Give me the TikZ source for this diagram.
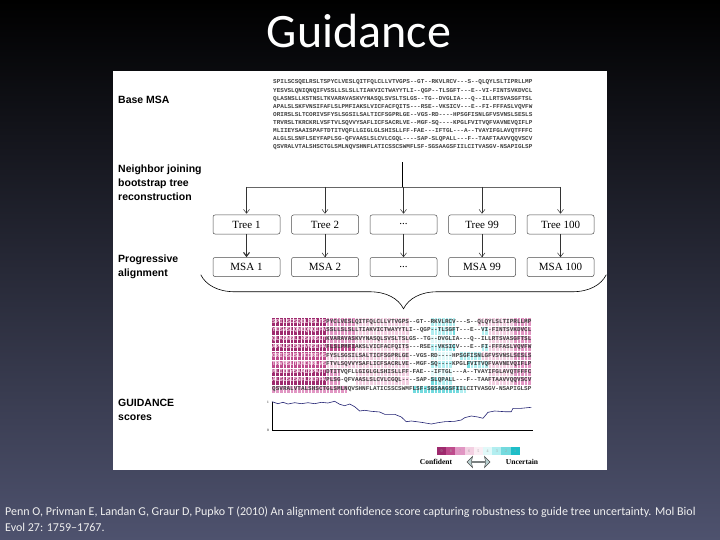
\documentclass[tikz,border=0pt]{standalone}
\usepackage{fontspec}
\setmainfont{Liberation Serif}
\setsansfont{Liberation Sans}
\setmonofont{Liberation Mono}
\newfontfamily\slidefont{Carlito}
\usepackage{tikz}
\usetikzlibrary{arrows.meta, positioning, shapes.arrows, decorations.pathreplacing, fit}

\definecolor{fond}{RGB}{78,82,110}
\definecolor{sc9}{RGB}{158,42,110}
\definecolor{sc8}{RGB}{190,75,140}
\definecolor{sc7}{RGB}{225,150,195}
\definecolor{sc6}{RGB}{243,208,226}
\definecolor{sc5}{RGB}{251,238,244}
\definecolor{sc4}{RGB}{225,249,249}
\definecolor{sc3}{RGB}{178,238,240}
\definecolor{sc2}{RGB}{115,218,222}
\definecolor{sc1}{RGB}{30,190,200}
\definecolor{courbe}{RGB}{35,35,115}
\definecolor{flechegris}{RGB}{185,208,208}

\begin{document}
\begin{tikzpicture}[
  x=1pt, y=-1pt,
  node distance=23pt and 11pt,
  boite/.style={
    draw=black!70,
    line width=0.5pt,
    rounded corners=2pt,
    fill=white,
    minimum width=67pt,
    minimum height=19pt,
    inner sep=0pt,
    font=\fontsize{11}{12}\selectfont
  },
  etiquette/.style={
    font=\sffamily\bfseries\fontsize{10.5}{14}\selectfont,
    align=left,
    anchor=west,
    inner sep=0pt
  },
  seq/.style={
    font=\ttfamily\bfseries\fontsize{6}{6}\selectfont,
    anchor=west,
    inner sep=0pt,
    text=black!75
  },
  fleche/.style={
    -{Straight Barb[length=4pt, width=6pt]},
    line width=0.5pt,
    draw=black!80
  },
  legende/.style={
    minimum width=9.2pt,
    minimum height=8pt,
    inner sep=0pt,
    text=black!35,
    font=\fontsize{4}{4}\selectfont
  }
]
  % Fond et cadre
  \shade[top color=black, bottom color=fond] (0,0) rectangle (720,540);
  \fill[white] (113,71) rectangle (607,470);

  % Titre et reference
  \node[font=\slidefont\fontsize{48}{48}\selectfont, text=white, anchor=base] (titre) at (359,48) {Guidance};
  \node[font=\slidefont\fontsize{12}{16}\selectfont, text=black!6, align=left, anchor=base west, inner sep=0pt] (ref) at (5,531)
    {Penn O, Privman E, Landan G, Graur D, Pupko T (2010) An alignment confidence score capturing robustness to guide tree uncertainty. Mol Biol\\Evol 27: 1759–1767.};

  % Etiquettes de gauche
  \node[etiquette] (lbase) at (118,100) {Base MSA};
  \node[etiquette] (lnj) at (118,183) {Neighbor joining\\bootstrap tree\\reconstruction};
  \node[etiquette] (lprog) at (118,267) {Progressive\\alignment};
  \node[etiquette] (lscore) at (118,410) {GUIDANCE\\scores};

  % Cases colorees
  \foreach \r/\a/\b/\s in {
    1/1/15/9, 1/16/23/7, 1/24/38/6, 1/45/51/3, 1/58/67/6, 1/68/72/7,
    2/1/15/9, 2/16/23/7, 2/24/38/6, 2/45/50/3, 2/51/51/2, 2/59/60/3, 2/61/67/6, 2/68/72/7,
    3/1/15/9, 3/16/23/7, 3/24/38/6, 3/45/50/4, 3/61/67/6, 3/68/72/7,
    4/1/15/9, 4/16/23/8, 4/24/38/6, 4/45/50/3, 4/51/51/2, 4/59/60/3, 4/61/67/6, 4/68/72/7,
    5/1/15/8, 5/16/38/6, 5/45/50/4, 5/53/58/3, 5/59/67/6, 5/68/72/7,
    6/1/15/8, 6/16/38/6, 6/45/50/3, 6/55/55/2, 6/56/60/3, 6/61/67/6, 6/68/72/7,
    7/1/15/9, 7/16/19/7, 7/24/38/6, 7/45/50/4, 7/61/67/6, 7/68/72/7,
    8/1/15/9, 8/16/19/7, 8/24/38/6, 8/45/46/2, 8/47/50/3, 8/61/67/6, 8/68/72/7,
    9/1/21/7, 9/40/52/2, 9/53/54/3} {
    \fill[sc\s] ({272+3.6*(\a-1)},{318+8.33*(\r-1)}) rectangle ({272+3.6*\b},{318+8.33*\r});
  }
  \foreach \c in {1,...,71} {
    \draw[white, line width=0.25pt] ({272+3.6*\c},318) -- ++(0,75);
  }
  \foreach \r in {1,...,8} {
    \draw[white, line width=0.25pt] (272,{318+8.33*\r}) -- ++(259.2,0);
  }

  % Sequences (alignement de base et alignement colore)
  \foreach \r/\hc/\hd/\tl in {
    1/sc6/SPILSCSQELRSLTS/PYCLVESLQITFQLCLLVTVGPS--GT--RKVLRCV---S--QLQYLSLTIPRLLMP,
    2/sc6/YESVSLQNIQNQIFV/SSLLSLSLLTIAKVICTWAYYTLI--QGP--TLSGFT---E--VI-FINTSVKDVCL,
    3/sc6/QLASNSLLKSTNSLT/KVARAVASKVYNASQLSVSLTSLGS--TG--DVGLIA---Q--ILLRTSVASGFTSL,
    4/sc6/APALSLSKFVNSIFA/FLSLPMFIAKSLVICFACFQITS---RSE--VKSICV---E--FI-FFFASLVQVFW,
    5/sc6/ORIRSLSLTCORIVS/FYSLSGSILSALTICFSGPRLGE--VGS-RD----HPSGFISNLGFVSVNSLSESLS,
    6/sc6/TRVRSLTKRCKRLVS/FTVLSQVVYSAFLICFSACRLVE--MGF-SQ----KPGLFVITVQFVAVNEVQIFLP,
    7/sc6/MLIIEYSAAISPAFT/DTITVQFLLGIGLGLSHISLLFF-FAE---IFTGL---A--TVAYIFGLAVQTFFFC,
    8/sc6/ALGLSLSNFLSEYFA/PLSG-QFVAASLSLCVLCGQL----SAP-SLQPALL---F--TAAFTAAVVQQVSCV,
    9/black!75/QSVRALVTALSHSCT/GLSMLNQVSHNFLATICSSCSWMFLSF-SGSAAGSFIILCITVASGV-NSAPIGLSP} {
    \node[seq] (b\r) at (273,{82.5+8.1*(\r-1)}) {\hd\tl};
    \node[seq] (c\r) at (272,{322.2+8.33*(\r-1)}) {\textcolor{\hc}{\hd}\tl};
  }
  \node[fit=(b1)(b9), inner sep=0pt] (base) {};

  % Arbres et alignements
  \node[boite] (t1) at (246.5,224.5) {Tree 1};
  \node[boite, right=of t1] (t2) {Tree 2};
  \node[boite, right=of t2] (t3) {...};
  \node[boite, right=of t3] (t4) {Tree 99};
  \node[boite, right=of t4] (t5) {Tree 100};

  \node[boite, below=of t1] (m1) {MSA 1};
  \node[boite, below=of t2] (m2) {MSA 2};
  \node[boite, below=of t3] (m3) {...};
  \node[boite, below=of t4] (m4) {MSA 99};
  \node[boite, below=of t5] (m5) {MSA 100};

  % Repartition vers les arbres
  \coordinate (split) at (401,187);
  \draw[line width=0.8pt, shorten <=12pt] (base.south) -- (base.south |- split);
  \draw[line width=0.4pt, black!60] (t1 |- split) -- (t5 |- split);
  \foreach \i in {1,...,5} {
    \draw[fleche, shorten >=1pt] (t\i |- split) -- (t\i.north);
  }
  \draw[fleche, line width=1.1pt] (t1) -- (m1);
  \foreach \i in {2,...,5} {
    \draw[fleche] (t\i) -- (m\i);
  }

  % Accolade
  \draw[line width=0.6pt, decorate, decoration={brace, mirror, amplitude=34pt}]
    ([xshift=-12pt, yshift=2pt]m1.south west) -- ([xshift=12pt, yshift=2pt]m5.south east);

  % Courbe des scores
  \draw[line width=0.6pt] (272,402) -- (272,430) -- (533,430);
  \node[font=\fontsize{3.5}{4}\selectfont, anchor=east, inner sep=1pt] (un) at (270,402) {1};
  \node[font=\fontsize{3.5}{4}\selectfont, anchor=east, inner sep=1pt] (zero) at (270,430) {0};
  \draw[courbe, line width=0.6pt] plot coordinates {
    (272,401.7) (278,403.7) (283,402.3) (288,404) (294.7,402.7) (301.3,403.7)
    (308,402.7) (314.7,403.7) (321.3,402.3) (328,403) (334.7,401.3) (339.7,404.3)
    (344.7,405.7) (349.7,404) (354.7,406.7) (359.7,411) (364.7,410.3) (371.3,411.3)
    (379.7,412) (384.7,414.3) (394.7,414.3) (401.3,417) (406.3,421.7) (411.3,421)
    (421.3,422.3) (431.3,424) (438,422.7) (444.7,421.7) (454.7,421.3) (461.3,420)
    (464.7,417.7) (471.3,416) (478,417) (483,418.3) (488,412.3) (494.7,411)
    (504.7,411.7) (511.3,411.7) (513,408.3) (521.3,408.3) (531.3,407.3)};

  % Legende
  \foreach \s [count=\i] in {9,...,1} {
    \node[legende, fill=sc\s] (lg\i) at ({441.6+9.2*(\i-1)},451) {\s};
  }
  \node[font=\bfseries\fontsize{7.5}{8}\selectfont, inner sep=0pt] (conf) at (436,462) {Confident};
  \node[font=\bfseries\fontsize{7.5}{8}\selectfont, inner sep=0pt] (unc) at (522,462) {Uncertain};
  \node[double arrow, draw=black!70, line width=0.5pt, fill=flechegris,
    minimum width=11pt, minimum height=23pt, inner sep=0pt, double arrow head extend=2pt,
    double arrow head indent=1pt] (dbl) at (478.5,462) {};
\end{tikzpicture}
\end{document}
